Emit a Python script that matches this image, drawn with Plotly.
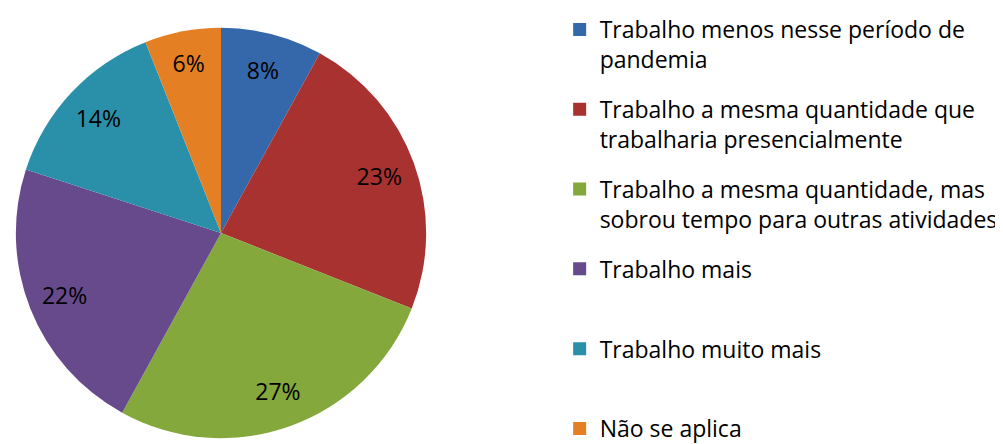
import plotly.graph_objects as go

categories = [
    "Trabalho menos nesse período de<br>pandemia",
    "Trabalho a mesma quantidade que<br>trabalharia presencialmente",
    "Trabalho a mesma quantidade, mas<br>sobrou tempo para outras atividades",
    "Trabalho mais<br> ",
    "Trabalho muito mais<br> ",
    "Não se aplica",
]
values = [8, 23, 27, 22, 14, 6]
colors = ["#3567AB", "#A8322F", "#84A83C", "#664A8C", "#2A90AA", "#E47F24"]

W, H = 1003, 444
dom = dict(x=[6 / W, 420 / W], y=[1 - 430 / H, 1 - 16 / H])
FONT = "Open Sans"

fig = go.Figure()
# filled pie
fig.add_trace(go.Pie(
    labels=categories, values=values, sort=False, direction="clockwise", rotation=0,
    marker=dict(colors=colors, line=dict(width=0)),
    textinfo="none", domain=dom, showlegend=False, hoverinfo="label+percent",
))
# transparent ring carrying the percentage labels near the rim
fig.add_trace(go.Pie(
    labels=categories, values=values, sort=False, direction="clockwise", rotation=0,
    hole=0.64,
    marker=dict(colors=["rgba(0,0,0,0)"] * len(values), line=dict(width=0)),
    texttemplate="%{percent:.0%}", textposition="inside",
    insidetextorientation="horizontal",
    textfont=dict(family=FONT, size=23, color="black"),
    domain=dom, showlegend=False, hoverinfo="skip",
))
# legend entries
for i, (lab, col) in enumerate(zip(categories, colors)):
    fig.add_trace(go.Scatter(
        x=[None], y=[None], mode="markers", name=lab,
        marker=dict(symbol="square", size=13, color=col),
        legendgroup=f"g{i}", showlegend=True, hoverinfo="skip",
    ))

fig.update_layout(
    width=W, height=H,
    margin=dict(l=0, r=0, t=0, b=0),
    paper_bgcolor="white", plot_bgcolor="rgba(0,0,0,0)",
    xaxis=dict(visible=False), yaxis=dict(visible=False),
    font=dict(family=FONT, size=23, color="black"),
    legend=dict(
        x=0.550, y=1.01, xanchor="left", yanchor="top",
        valign="top", itemwidth=30, tracegroupgap=17,
        maxheight=700,
        font=dict(family=FONT, size=23, color="black"),
    ),
)
fig.write_html("out.html")
